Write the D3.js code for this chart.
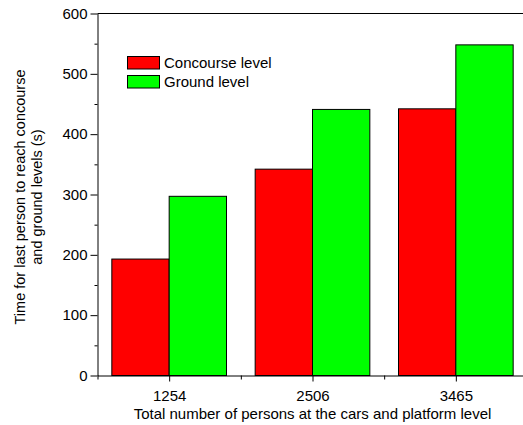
<!DOCTYPE html>
<html>
<head>
<meta charset="utf-8">
<script src="https://cdn.jsdelivr.net/npm/d3@7"></script>
<style>
  body { margin: 0; background: #fff; }
  svg { display: block; font-family: Arial, "Liberation Sans", sans-serif; }
  .tick text { font-size: 15px; fill: #000; }
</style>
</head>
<body>
<script>
// DATA
const categories = ["1254", "2506", "3465"]
const seriesNames = ["Concourse level", "Ground level"]
const concourse = [193, 342, 442]
const ground = [297, 441, 548]
const yTicks = [0, 100, 200, 300, 400, 500, 600]
const colors = ["#ff0000", "#00ff00"]

const width = 523, height = 425
const plotLeft = 97.5, plotTop = 13.5, plotBottom = 375.5, plotRight = 527.5

const svg = d3.select("body").append("svg")
  .attr("width", width).attr("height", height)

// SCALES
const x = d3.scaleBand().domain(categories).range([plotLeft, plotRight])
  .paddingInner(0.2).paddingOuter(0.1)
const x1 = d3.scaleBand().domain(seriesNames).range([0, x.bandwidth()])
const xl = d3.scaleLinear().domain([0.5, categories.length + 0.5]).range([plotLeft, plotRight])
const y = d3.scaleLinear().domain([0, 600]).range([plotBottom, plotTop])

// BARS
const rows = categories.map((c, i) => ({ cat: c, vals: [concourse[i], ground[i]] }))
const groups = svg.append("g").selectAll("g").data(rows).enter().append("g")
  .attr("transform", d => `translate(${x(d.cat)},0)`)
groups.selectAll("rect").data(d => d.vals.map((v, j) => ({ key: seriesNames[j], v, j })))
  .enter().append("rect")
  .attr("x", d => x1(d.key))
  .attr("width", x1.bandwidth())
  .attr("y", d => y(d.v))
  .attr("height", d => y(0) - y(d.v))
  .attr("fill", d => colors[d.j])
  .attr("stroke", "#000")
  .attr("stroke-width", 1)

// AXES
svg.append("line").attr("x1", plotLeft).attr("x2", width).attr("y1", plotTop).attr("y2", plotTop)
  .attr("stroke", "#000")

const yAxis = svg.append("g").attr("transform", `translate(${plotLeft},0)`)
  .call(d3.axisLeft(y).tickValues(yTicks).tickSize(7).tickPadding(3).tickSizeOuter(0))
yAxis.append("g").call(d3.axisLeft(y).tickValues([50, 150, 250, 350, 450, 550]).tickSize(3).tickFormat(""))
  .select(".domain").remove()

const xAxis = svg.append("g").attr("transform", `translate(0,${plotBottom})`)
  .call(d3.axisBottom(xl).tickValues(d3.range(1, categories.length + 1))
    .tickFormat((d, i) => categories[i]).tickSize(6).tickPadding(9).tickSizeOuter(0))
xAxis.append("g").call(d3.axisBottom(xl).tickValues([0.5, 1.5, 2.5]).tickSize(4).tickFormat(""))
  .select(".domain").remove()
svg.selectAll(".domain").attr("stroke", "#000")
svg.selectAll(".tick line").attr("stroke", "#000")

// AXIS TITLES
svg.append("text").attr("x", x("2506") + x.bandwidth() / 2).attr("y", 419)
  .attr("text-anchor", "middle").style("font-size", "15px")
  .text("Total number of persons at the cars and platform level")

const yt = svg.append("text").attr("transform", "translate(25,197) rotate(-90)")
  .attr("text-anchor", "middle").style("font-size", "14.5px")
yt.append("tspan").attr("x", 0).attr("y", 0).text("Time for last person to reach concourse")
yt.append("tspan").attr("x", 0).attr("y", 17).text("and ground levels (s)")

// LEGEND
const legend = svg.append("g").attr("transform", "translate(127,56)")
const li = legend.selectAll("g").data(seriesNames).enter().append("g")
  .attr("transform", (d, i) => `translate(0,${i * 19})`)
li.append("rect").attr("x", 0.5).attr("y", 0.5).attr("width", 32).attr("height", 12.5)
  .attr("fill", (d, i) => colors[i]).attr("stroke", "#000")
li.append("text").attr("x", 37).attr("y", 11.5).style("font-size", "15px").text(d => d)
</script>
</body>
</html>
